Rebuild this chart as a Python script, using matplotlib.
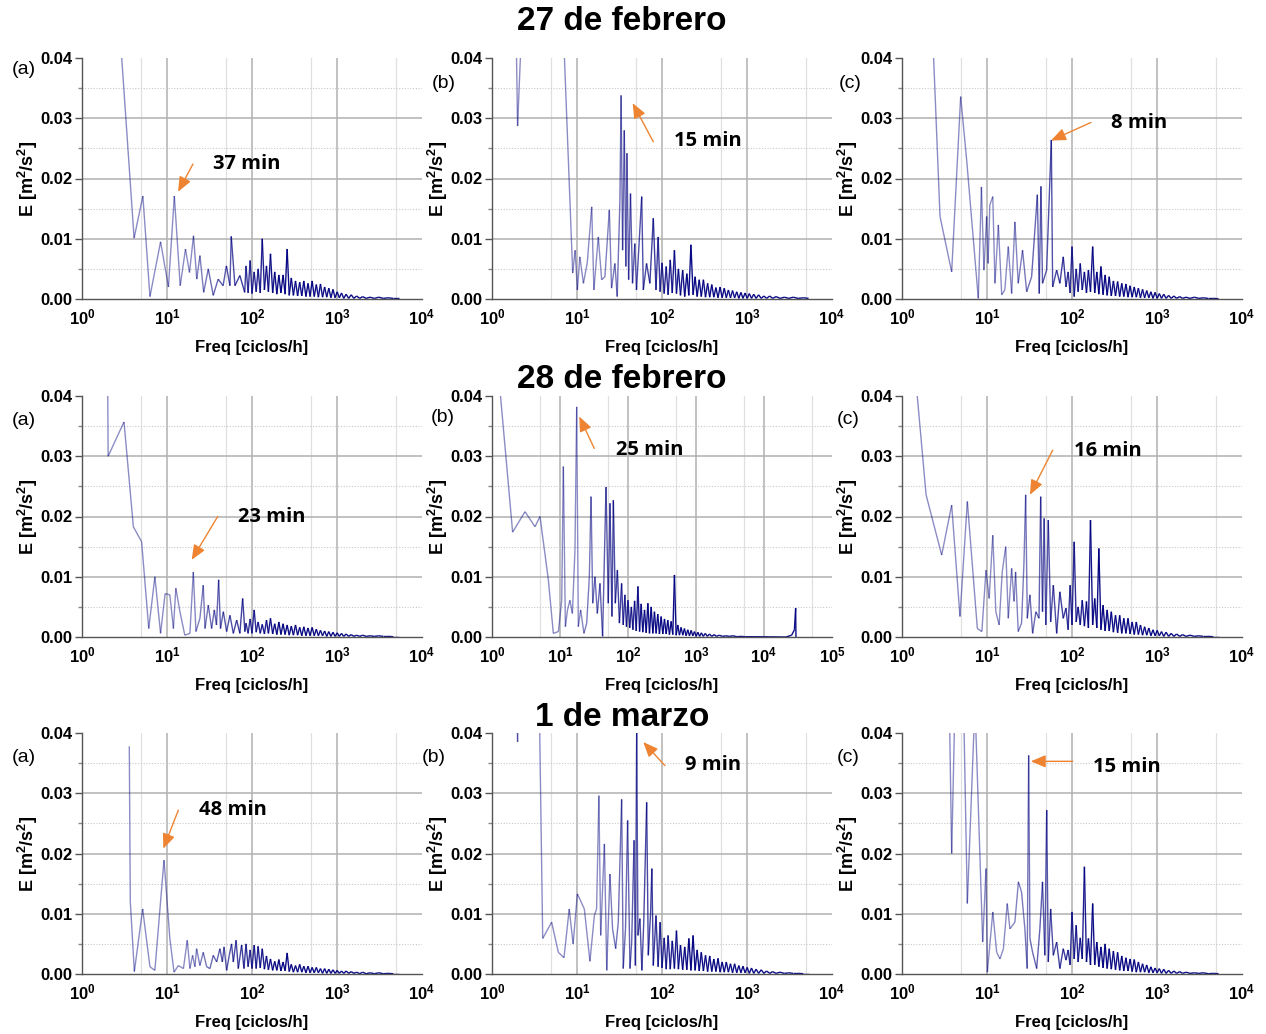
import numpy as np
import matplotlib
matplotlib.use('Agg')
import matplotlib.pyplot as plt
from matplotlib.collections import LineCollection
from matplotlib.ticker import NullLocator

plt.rcParams['font.family'] = ['Liberation Sans', 'DejaVu Sans']
plt.rcParams['mathtext.fontset'] = 'custom'
plt.rcParams['mathtext.rm'] = 'Liberation Sans'
plt.rcParams['mathtext.bf'] = 'Liberation Sans:bold'
plt.rcParams['mathtext.it'] = 'Liberation Sans:italic'

# --- spectra: frequency [ciclos/h] and energy [m2/s2] ---
# low-frequency part of each spectrum ("head"), then the dense high-frequency tail
# sampled on a common frequency list

f_tail = [85, 90, 95, 100, 106, 112, 118, 125, 132, 140,
          148, 156, 165, 175, 185, 196, 207, 219, 232, 245,
          259, 274, 290, 307, 325, 344, 364, 385, 407, 431,
          456, 482, 510, 540, 571, 604, 639, 676, 715, 757,
          801, 848, 897, 950, 1005, 1065, 1130, 1200, 1280, 1370,
          1470, 1580, 1700, 1850, 2000, 2200, 2450, 2750, 3100, 3500,
          4000, 4600, 5300]

# 27 de febrero
f_a1 = [2.9, 4.1, 5.2, 6.3, 8.4, 10.4, 12.2, 14.3, 16.5, 18.4, 20.5, 22.4, 24.4, 27, 30.6,
        35, 40, 45.7, 50, 55, 57, 63, 72, 82]
e_a1 = [0.041, 0.0101, 0.0171, 0.0004, 0.0095, 0.002, 0.0171, 0.0022, 0.0083, 0.0044, 0.0105,
        0.0033, 0.0072, 0.0011, 0.005, 0.0006, 0.0033, 0.0022, 0.0055, 0.0022, 0.0104, 0.0022,
        0.0039, 0.0011]
t_a1 = [0.0055, 0.0010, 0.0064, 0.0009, 0.0045, 0.0012, 0.0050, 0.0010, 0.0100, 0.0015,
        0.0055, 0.0012, 0.0075, 0.0010, 0.0045, 0.0008, 0.0040, 0.0010, 0.0040, 0.0008,
        0.0083, 0.0006, 0.0035, 0.0006, 0.0030, 0.0005, 0.0028, 0.0005, 0.0030, 0.0004,
        0.0026, 0.0004, 0.0030, 0.0004, 0.0024, 0.0003, 0.0025, 0.0003, 0.0020, 0.0003,
        0.0018, 0.0002, 0.0016, 0.0002, 0.0012, 0.0002, 0.0010, 0.0001, 0.0008, 0.0001,
        0.0007, 0.0001, 0.0005, 0.0001, 0.0004, 0.0001, 0.0003, 0.0001, 0.0003, 0.0001,
        0.0002, 0.0001, 0.0001]

f_b1 = [1.92, 2.0, 2.23, 4.0, 6.9, 8.9, 9.5, 10.1, 10.8, 11.9, 13.2, 14.9, 15.8, 17.8, 19.5,
        21.3, 24, 25.5, 27.9, 29.7, 32, 33, 34.4, 36, 37.6, 38.7, 40.5, 42.6, 45, 47.9, 50.1,
        57.7, 60.3, 65.8, 72, 79]
e_b1 = [0.045, 0.0287, 0.045, 0.06, 0.045, 0.0043, 0.0081, 0.0015, 0.007, 0.0026, 0.006,
        0.0153, 0.0015, 0.0103, 0.0032, 0.0037, 0.0148, 0.0018, 0.0059, 0.0004, 0.0164, 0.0338,
        0.0081, 0.028, 0.0054, 0.0242, 0.0032, 0.0175, 0.0026, 0.0092, 0.0015, 0.017, 0.0015,
        0.0059, 0.0026, 0.0134]
t_b1 = [0.0015, 0.0103, 0.0012, 0.0060, 0.0009, 0.0054, 0.0007, 0.0065, 0.0010, 0.0081,
        0.0009, 0.0050, 0.0006, 0.0048, 0.0004, 0.0042, 0.0006, 0.0090, 0.0007, 0.0037,
        0.0004, 0.0032, 0.0004, 0.0032, 0.0003, 0.0026, 0.0003, 0.0024, 0.0003, 0.0019,
        0.0002, 0.0020, 0.0002, 0.0018, 0.0002, 0.0015, 0.0002, 0.0014, 0.0002, 0.0012,
        0.0001, 0.0011, 0.0001, 0.0010, 0.0001, 0.0009, 0.0001, 0.0008, 0.0001, 0.0007,
        0.0001, 0.0005, 0.0001, 0.0005, 0.0001, 0.0004, 0.0001, 0.0003, 0.0001, 0.0003,
        0.0001, 0.0002, 0.0001]

f_c1 = [2.34, 2.8, 3.84, 4.9, 5.77, 7.9, 8.6, 9.2, 9.9, 10.3, 10.8, 11.7, 12.4, 13.6, 14.9,
        16.2, 17.8, 19.5, 21.3, 23.3, 26.2, 29.3, 33.5, 39.1, 41.2, 43.1, 45, 50.3, 57.1, 59.2,
        66, 72, 78.9]
e_c1 = [0.041, 0.0137, 0.0045, 0.0336, 0.023, 0.0001, 0.0186, 0.0048, 0.0137, 0.0059, 0.0156,
        0.017, 0.0026, 0.0123, 0.0007, 0.0015, 0.0087, 0.0009, 0.0128, 0.0026, 0.0081, 0.0012,
        0.0037, 0.0173, 0.0009, 0.0187, 0.0026, 0.0048, 0.0264, 0.002, 0.0048, 0.0026, 0.007]
t_c1 = [0.0020, 0.0045, 0.0010, 0.0087, 0.0004, 0.0050, 0.0012, 0.0059, 0.0015, 0.0045,
        0.0010, 0.0048, 0.0012, 0.0087, 0.0010, 0.0045, 0.0008, 0.0054, 0.0007, 0.0040,
        0.0006, 0.0037, 0.0005, 0.0030, 0.0005, 0.0029, 0.0004, 0.0026, 0.0004, 0.0025,
        0.0003, 0.0022, 0.0003, 0.0020, 0.0003, 0.0018, 0.0002, 0.0016, 0.0002, 0.0014,
        0.0002, 0.0012, 0.0001, 0.0011, 0.0001, 0.0009, 0.0001, 0.0008, 0.0001, 0.0006,
        0.0001, 0.0005, 0.0001, 0.0004, 0.0001, 0.0003, 0.0001, 0.0003, 0.0001, 0.0002,
        0.0001, 0.0001, 0.00005]

# 28 de febrero
f_a2 = [2.0, 2.03, 3.12, 4.02, 5.03, 6.1, 7.2, 8.4, 9.5, 10.8, 11.9, 12.7, 14.2, 16.2, 18.6,
        20.4, 21.9, 24.4, 26.7, 28, 30.6, 33.5, 36, 38.2, 40.5, 42.6, 46, 50.3, 55, 60.3, 66,
        72, 77.6, 82.5]
e_a2 = [0.045, 0.030, 0.0357, 0.0183, 0.0158, 0.0014, 0.01, 0.0006, 0.0072, 0.007, 0.0014,
        0.0081, 0.0042, 0.0003, 0.0006, 0.0108, 0.0009, 0.0031, 0.0086, 0.0014, 0.0053, 0.0014,
        0.0045, 0.002, 0.0095, 0.0014, 0.0042, 0.0009, 0.0036, 0.0006, 0.0028, 0.0006, 0.0064,
        0.0009]
t_a2 = [0.0023, 0.0006, 0.0030, 0.0006, 0.0045, 0.0008, 0.0025, 0.0006, 0.0021, 0.0005,
        0.0028, 0.0006, 0.0031, 0.0005, 0.0022, 0.0004, 0.0025, 0.0004, 0.0022, 0.0004,
        0.0020, 0.0003, 0.0018, 0.0003, 0.0020, 0.0003, 0.0016, 0.0002, 0.0017, 0.0002,
        0.0015, 0.0002, 0.0016, 0.0002, 0.0013, 0.0002, 0.0011, 0.0002, 0.0010, 0.0001,
        0.0009, 0.0001, 0.0008, 0.0001, 0.0007, 0.0001, 0.0006, 0.0001, 0.0005, 0.0001,
        0.0004, 0.0001, 0.0003, 0.0001, 0.0003, 0.0001, 0.0002, 0.0001, 0.0002, 0.0001,
        0.0001, 0.00005, 0.00005]

f_b2 = [1.31, 2.01, 3.06, 4.29, 5.08, 6.74, 7.98, 9.47, 10.6, 11.2, 12, 12.9, 14, 15.2, 16.6,
        17.6, 18.6, 20.1, 22.5, 24.7, 27, 28.6, 30.3, 32.7, 35.4, 38.7, 42.3, 44.3, 47.5, 51.3,
        54.3, 58.1, 60.9, 65.1, 69.8, 74.8, 80.5]
e_b2 = [0.041, 0.0174, 0.0208, 0.0183, 0.02, 0.0095, 0.0006, 0.0009, 0.0061, 0.0283, 0.0017,
        0.0045, 0.0061, 0.0039, 0.0144, 0.0382, 0.0017, 0.0045, 0.0006, 0.0023, 0.01, 0.0233,
        0.0056, 0.01, 0.0039, 0.0089, 0.0001, 0.01, 0.0249, 0.0056, 0.0222, 0.0034, 0.0227,
        0.0056, 0.0111, 0.0023, 0.0089]
t_b2 = [0.0020, 0.0070, 0.0017, 0.0061, 0.0015, 0.0050, 0.0012, 0.0060, 0.0010, 0.0084,
        0.0009, 0.0055, 0.0008, 0.0045, 0.0007, 0.0056, 0.0006, 0.0050, 0.0006, 0.0042,
        0.0006, 0.0038, 0.0005, 0.0034, 0.0005, 0.0030, 0.0005, 0.0028, 0.0004, 0.0026,
        0.0004, 0.0103, 0.0003, 0.0020, 0.0003, 0.0016, 0.0003, 0.0014, 0.0002, 0.0012,
        0.0002, 0.0011, 0.0002, 0.0009, 0.0001, 0.0008, 0.0001, 0.0007, 0.0001, 0.0006,
        0.0001, 0.0005, 0.0001, 0.0004, 0.0001, 0.0003, 0.0001, 0.0002, 0.0001, 0.0002,
        0.00005, 0.0001, 0.00005]
# this record runs on to ~29000 ciclos/h, with a small rise at the very end
f_b2_end = [12000, 21000, 25500, 28000, 29200, 29500]
e_b2_end = [0.00003, 0.0, 0.0003, 0.0012, 0.0048, 0.0]

f_c2 = [1.49, 1.92, 2.93, 3.84, 4.81, 5.87, 7.7, 8.7, 9.73, 10.6, 11.7, 12.7, 13.9, 15.1, 16.6,
        17.8, 19.5, 20.8, 21.7, 23.3, 25.5, 27.2, 28.5, 29.8, 32, 34.4, 37.6, 40.9, 42.8, 45,
        47, 49.2, 52.6, 56.1, 60.3, 66, 72, 78.9]
e_c2 = [0.041, 0.0236, 0.0136, 0.0219, 0.0034, 0.0225, 0.0014, 0.0009, 0.0111, 0.0064, 0.0169,
        0.0042, 0.002, 0.0108, 0.015, 0.0031, 0.0114, 0.0059, 0.0108, 0.0009, 0.0023, 0.0122,
        0.0236, 0.0031, 0.007, 0.0006, 0.0042, 0.0031, 0.0233, 0.0042, 0.0197, 0.002, 0.0194,
        0.0025, 0.0086, 0.0006, 0.0075, 0.0031]
t_c2 = [0.0048, 0.0012, 0.0086, 0.0020, 0.0158, 0.0025, 0.0050, 0.0020, 0.0061, 0.0018,
        0.0059, 0.0015, 0.0194, 0.0020, 0.0064, 0.0015, 0.0147, 0.0012, 0.0053, 0.0010,
        0.0045, 0.0010, 0.0042, 0.0008, 0.0036, 0.0007, 0.0036, 0.0006, 0.0031, 0.0006,
        0.0031, 0.0005, 0.0025, 0.0004, 0.0025, 0.0004, 0.0020, 0.0003, 0.0017, 0.0003,
        0.0015, 0.0002, 0.0012, 0.0002, 0.0011, 0.0002, 0.0009, 0.0001, 0.0008, 0.0001,
        0.0006, 0.0001, 0.0005, 0.0001, 0.0004, 0.0001, 0.0003, 0.0001, 0.0002, 0.0001,
        0.0001, 0.00005, 0.00005]

# 1 de marzo
f_a3 = [3.6, 3.7, 4.13, 5.17, 6.3, 7.2, 9.22, 10.8, 12.1, 13.6, 15.6, 17.3, 18.6, 20, 21.3,
        22.3, 24.4, 26.7, 29.3, 32, 35, 38.4, 41.9, 44.8, 46.9, 50.3, 54, 57.5, 60.3, 65, 69,
        75.5, 80.4]
e_a3 = [0.0378, 0.012, 0.0004, 0.0108, 0.0012, 0.0006, 0.0189, 0.0059, 0.0003, 0.0014, 0.0009,
        0.0056, 0.0009, 0.0031, 0.0012, 0.0042, 0.0014, 0.0036, 0.0012, 0.0009, 0.0031, 0.002,
        0.0042, 0.002, 0.0045, 0.0006, 0.0031, 0.005, 0.002, 0.0056, 0.0009, 0.0048, 0.0009]
t_a3 = [0.0050, 0.0012, 0.0040, 0.0009, 0.0048, 0.0009, 0.0046, 0.0010, 0.0042, 0.0008,
        0.0030, 0.0007, 0.0025, 0.0006, 0.0021, 0.0006, 0.0024, 0.0005, 0.0020, 0.0005,
        0.0035, 0.0004, 0.0016, 0.0003, 0.0014, 0.0003, 0.0016, 0.0003, 0.0013, 0.0002,
        0.0013, 0.0002, 0.0011, 0.0002, 0.0011, 0.0002, 0.0009, 0.0001, 0.0009, 0.0001,
        0.0008, 0.0001, 0.0007, 0.0001, 0.0006, 0.0001, 0.0005, 0.0001, 0.0005, 0.0001,
        0.0004, 0.0001, 0.0003, 0.00005, 0.0003, 0.00005, 0.0002, 0.00005, 0.0002, 0.00005,
        0.0001, 0.00005, 0.00005]

f_b3 = [1.9, 2.0, 2.1, 3.0, 3.6, 3.95, 5.03, 6.03, 7.03, 8.1, 9.0, 10.1, 12.2, 14.2, 16, 17,
        18.1, 19, 21, 22.4, 24.4, 26.2, 28.5, 30.6, 33.5, 35, 37.2, 39.4, 42, 44, 46.9, 48.6,
        50.4, 52.1, 55, 58, 61, 66, 69, 73.5, 76, 79]
e_b3 = [0.05, 0.0385, 0.06, 0.07, 0.045, 0.0059, 0.0086, 0.0036, 0.0027, 0.0108, 0.005, 0.0133,
        0.0108, 0.0021, 0.0097, 0.0108, 0.0296, 0.0064, 0.0216, 0.0006, 0.0166, 0.0075, 0.0042,
        0.0086, 0.029, 0.0009, 0.0075, 0.0255, 0.0009, 0.0053, 0.0222, 0.0014, 0.041, 0.0064,
        0.0092, 0.0006, 0.0086, 0.0285, 0.0031, 0.0103, 0.0175, 0.0014]
t_b3 = [0.0097, 0.0012, 0.0086, 0.0010, 0.0060, 0.0008, 0.0064, 0.0008, 0.0055, 0.0009,
        0.0072, 0.0008, 0.0048, 0.0007, 0.0045, 0.0007, 0.0059, 0.0006, 0.0064, 0.0006,
        0.0040, 0.0005, 0.0036, 0.0005, 0.0031, 0.0004, 0.0030, 0.0004, 0.0025, 0.0004,
        0.0026, 0.0003, 0.0020, 0.0003, 0.0020, 0.0003, 0.0017, 0.0002, 0.0017, 0.0002,
        0.0014, 0.0002, 0.0013, 0.0002, 0.0011, 0.0001, 0.0010, 0.0001, 0.0008, 0.0001,
        0.0007, 0.0001, 0.0005, 0.0001, 0.0004, 0.0001, 0.0003, 0.0001, 0.0002, 0.0001,
        0.0001, 0.00005, 0.00005]

f_c3 = [3.6, 3.84, 4.2, 4.6, 5.3, 5.87, 7.22, 8.9, 9.73, 10.1, 11.7, 13, 14.2, 15.6, 17.3, 18.6,
        21.3, 23.4, 25.5, 27.9, 29.7, 30.9, 32, 34.4, 38.4, 41.9, 45, 47.9, 50.4, 52.6, 56.1,
        60.3, 66, 72, 78.9]
e_c3 = [0.045, 0.02, 0.045, 0.06, 0.045, 0.0117, 0.045, 0.0053, 0.0175, 0.0003, 0.0103, 0.0036,
        0.0025, 0.0042, 0.0117, 0.0075, 0.0086, 0.0153, 0.0136, 0.0075, 0.0009, 0.0363, 0.0059,
        0.0036, 0.0009, 0.0075, 0.0153, 0.0031, 0.0272, 0.002, 0.0108, 0.0031, 0.0053, 0.0009,
        0.0042]
t_c3 = [0.0023, 0.0040, 0.0015, 0.0103, 0.0025, 0.0081, 0.0020, 0.0060, 0.0025, 0.0178,
        0.0020, 0.0059, 0.0015, 0.0117, 0.0015, 0.0053, 0.0012, 0.0045, 0.0010, 0.0050,
        0.0009, 0.0042, 0.0008, 0.0038, 0.0007, 0.0036, 0.0006, 0.0030, 0.0005, 0.0027,
        0.0005, 0.0025, 0.0004, 0.0024, 0.0003, 0.0020, 0.0003, 0.0017, 0.0003, 0.0015,
        0.0002, 0.0012, 0.0002, 0.0010, 0.0002, 0.0009, 0.0001, 0.0008, 0.0001, 0.0006,
        0.0001, 0.0005, 0.0001, 0.0004, 0.0001, 0.0003, 0.0001, 0.0002, 0.0001, 0.0002,
        0.00005, 0.0001, 0.00005]

row_titles = ['27 de febrero', '28 de febrero', '1 de marzo']
panel_tags = ['(a)', '(b)', '(c)']

# period labels of the marked peaks, one per panel (row by row)
peak_labels = ['37 min', '15 min', '8 min', '23 min', '25 min', '16 min', '48 min', '9 min', '15 min']
peak_tip = [(13.5, 0.0178), (45.2, 0.0325), (56.6, 0.0263), (19.5, 0.0128), (19.2, 0.0366),
            (32, 0.0236), (9.05, 0.0208), (60.2, 0.0385), (32.7, 0.0353)]
peak_tail = [(20.2, 0.0224), (79, 0.0261), (167, 0.0293), (39.5, 0.020), (31.9, 0.0313),
             (59.3, 0.031), (13.6, 0.0272), (108, 0.0346), (102, 0.0353)]
peak_text = [(87, 0.0224), (351, 0.0262), (619, 0.0292), (171, 0.020), (211, 0.031),
             (267, 0.0308), (60.3, 0.0272), (402, 0.0347), (440, 0.0344)]

spectra = [[(f_a1 + f_tail, e_a1 + t_a1), (f_b1 + f_tail, e_b1 + t_b1), (f_c1 + f_tail, e_c1 + t_c1)],
           [(f_a2 + f_tail, e_a2 + t_a2), (f_b2 + f_tail + f_b2_end, e_b2 + t_b2 + e_b2_end),
            (f_c2 + f_tail, e_c2 + t_c2)],
           [(f_a3 + f_tail, e_a3 + t_a3), (f_b3 + f_tail, e_b3 + t_b3), (f_c3 + f_tail, e_c3 + t_c3)]]
x_upper = [[1e4, 1e4, 1e4], [1e4, 1e5, 1e4], [1e4, 1e4, 1e4]]

W, H = 1266, 1034
col_left = [82, 492, 902]
row_top = [58, 396, 733]
AX_W, AX_H = 340, 241
ORANGE = '#EE8432'
NAVY = (0.0, 0.0, 0.5)

title_y = [22, 380, 717]
tag_pos = [[(24, 70), (444, 84), (850, 84)],
           [(24, 421), (443, 418), (848, 420)],
           [(24, 758), (434, 757), (848, 757)]]


def draw_panel(ax, freq, energy, xhi):
    ax.set_xscale('log')
    n_dec = int(round(np.log10(xhi)))

    # grid: decades solid, 5x minor light, horizontal solid/dotted
    for k in range(1, n_dec):
        ax.axvline(10.0 ** k, color='#b0b0b0', lw=1.1, zorder=0)
    for k in range(0, n_dec):
        ax.axvline(5 * 10.0 ** k, color='#e0e0e0', lw=0.9, zorder=0)
    for y in (0.01, 0.02, 0.03):
        ax.axhline(y, color='#b0b0b0', lw=1.1, zorder=0)
    for y in (0.005, 0.015, 0.025, 0.035):
        ax.axhline(y, color='#c8c8c8', lw=0.8, ls=(0, (1, 1.5)), zorder=0)

    freq = np.asarray(freq, dtype=float)
    energy = np.asarray(energy, dtype=float)
    pts = np.column_stack([freq, energy])
    segs = np.stack([pts[:-1], pts[1:]], axis=1)
    # thin sparse low-frequency trace looks pale, dense high-frequency part dark
    mid = np.log10(freq[1:])
    alpha = np.clip(0.45 + 0.5 * (mid - 1.3), 0.45, 0.95)
    colors = [(NAVY[0], NAVY[1], NAVY[2], a) for a in alpha]
    lc = LineCollection(segs, colors=colors, linewidths=1.0, zorder=2)
    ax.add_collection(lc)

    ax.set_xlim(1, xhi)
    ax.set_ylim(0, 0.04)

    ax.set_yticks([0, 0.01, 0.02, 0.03, 0.04])
    ax.set_yticklabels(['0.00', '0.01', '0.02', '0.03', '0.04'], fontsize=12, fontweight='bold')
    ax.set_yticks([0.005, 0.015, 0.025, 0.035], minor=True)
    ax.set_xticks([10.0 ** k for k in range(n_dec + 1)])
    ax.set_xticklabels([r'$\mathbf{10^{%d}}$' % k for k in range(n_dec + 1)], fontsize=12)
    ax.xaxis.set_minor_locator(NullLocator())
    ax.tick_params(axis='y', which='major', direction='out', length=5, width=1,
                   color='#555555', pad=2)
    ax.tick_params(axis='y', which='minor', direction='out', length=3, width=1, color='#888888')
    ax.tick_params(axis='x', which='major', length=0, pad=6)

    for side in ('top', 'right'):
        ax.spines[side].set_visible(False)
    for side in ('left', 'bottom'):
        ax.spines[side].set_color('#555555')
        ax.spines[side].set_linewidth(1.0)

    ax.text(0.5, -0.203, 'Freq [ciclos/h]', transform=ax.transAxes, ha='center', va='center',
            fontsize=12, fontweight='bold')
    ax.text(-0.159, 0.5, r'E [m$^{\mathbf{2}}$/s$^{\mathbf{2}}$]', transform=ax.transAxes,
            rotation=90, ha='center', va='center', fontsize=13, fontweight='bold')


fig = plt.figure(figsize=(W / 100, H / 100), dpi=100)

for r in range(3):
    fig.text(622 / W, 1 - title_y[r] / H, row_titles[r], ha='center', va='center',
             fontsize=24, fontweight='bold')
    for c in range(3):
        left, top = col_left[c], row_top[r]
        ax = fig.add_axes([left / W, 1 - (top + AX_H) / H, AX_W / W, AX_H / H])
        freq, energy = spectra[r][c]
        draw_panel(ax, freq, energy, x_upper[r][c])

        i = r * 3 + c
        ax.annotate('', xy=peak_tip[i], xytext=peak_tail[i],
                    arrowprops=dict(arrowstyle='-|>,head_length=0.6,head_width=0.25',
                                    color=ORANGE, lw=1.0, mutation_scale=15,
                                    shrinkA=0, shrinkB=0), zorder=5)
        ax.text(peak_text[i][0], peak_text[i][1], peak_labels[i], ha='center', va='center',
                fontsize=14.5, fontweight='bold', family=['Open Sans', 'DejaVu Sans'], zorder=6)

        tx, ty = tag_pos[r][c]
        fig.text(tx / W, 1 - ty / H, panel_tags[c], ha='center', va='center', fontsize=14)

fig.savefig('out.png', dpi=100)
